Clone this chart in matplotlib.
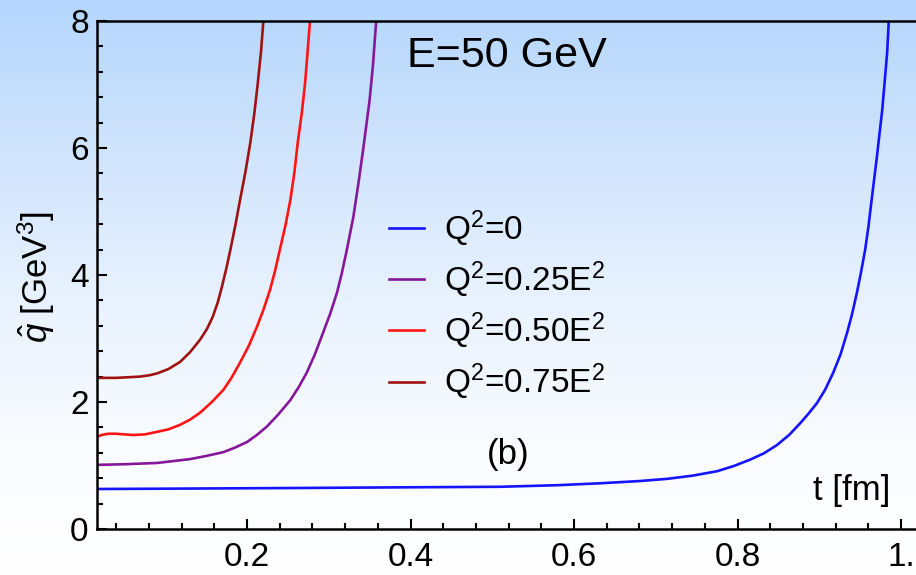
import numpy as np
import matplotlib
matplotlib.use("Agg")
import matplotlib.pyplot as plt
from matplotlib.ticker import MultipleLocator

plt.rcParams["font.family"] = ["Liberation Sans", "DejaVu Sans"]
plt.rcParams["mathtext.fontset"] = "custom"
plt.rcParams["mathtext.rm"] = "Liberation Sans"
plt.rcParams["mathtext.it"] = "Liberation Sans:italic"

# q-hat(t) for E = 50 GeV at several virtualities
t_q0 = [0.0165, 0.10, 0.25, 0.375, 0.51, 0.58, 0.632, 0.68, 0.714, 0.745,
        0.775, 0.795, 0.815, 0.832, 0.848, 0.863, 0.877, 0.887, 0.897, 0.907,
        0.917, 0.926, 0.934, 0.940, 0.946, 0.951, 0.956, 0.960, 0.964, 0.970,
        0.977, 0.983, 0.985]
q_q0 = [0.63, 0.635, 0.645, 0.655, 0.665, 0.69, 0.72, 0.755, 0.79, 0.84,
        0.91, 0.99, 1.09, 1.19, 1.32, 1.48, 1.67, 1.82, 1.98, 2.19,
        2.46, 2.75, 3.09, 3.38, 3.72, 4.04, 4.39, 4.75, 5.18, 5.81,
        6.60, 7.50, 8.0]

t_q25 = [0.0165, 0.05, 0.09, 0.13, 0.15, 0.171, 0.185, 0.200, 0.212, 0.224,
         0.238, 0.253, 0.263, 0.273, 0.283, 0.293, 0.302, 0.310, 0.316, 0.322,
         0.330, 0.336, 0.342, 0.350, 0.354, 0.358]
q_q25 = [1.01, 1.02, 1.04, 1.10, 1.15, 1.21, 1.28, 1.37, 1.48, 1.61,
         1.80, 2.03, 2.23, 2.46, 2.75, 3.09, 3.40, 3.72, 4.03, 4.39,
         4.91, 5.42, 5.97, 6.76, 7.30, 8.0]

t_q50 = [0.0165, 0.022, 0.030, 0.040, 0.050, 0.061, 0.075, 0.09, 0.104, 0.118,
         0.130, 0.1425, 0.157, 0.171, 0.181, 0.191, 0.202, 0.212, 0.220, 0.228,
         0.234, 0.240, 0.247, 0.253, 0.258, 0.262, 0.267, 0.271, 0.274, 0.277]
q_q50 = [1.45, 1.48, 1.50, 1.50, 1.49, 1.48, 1.49, 1.53, 1.57, 1.64,
         1.72, 1.83, 2.00, 2.19, 2.38, 2.61, 2.88, 3.18, 3.45, 3.76,
         4.05, 4.39, 4.78, 5.18, 5.62, 6.08, 6.55, 7.02, 7.50, 8.0]

t_q75 = [0.0165, 0.04, 0.069, 0.08, 0.09, 0.104, 0.118, 0.13, 0.1425, 0.151,
         0.158, 0.164, 0.169, 0.175, 0.180, 0.186, 0.191, 0.198, 0.204, 0.209,
         0.213, 0.217, 0.220]
q_q75 = [2.38, 2.38, 2.40, 2.42, 2.45, 2.52, 2.63, 2.78, 2.98, 3.15,
         3.34, 3.56, 3.80, 4.12, 4.42, 4.80, 5.15, 5.62, 6.08, 6.55,
         7.00, 7.50, 8.0]

series = [
    (t_q0, q_q0, "#1414ff", r"Q$^2$=0"),
    (t_q25, q_q25, "#85179a", r"Q$^2$=0.25E$^2$"),
    (t_q50, q_q50, "#ff1414", r"Q$^2$=0.50E$^2$"),
    (t_q75, q_q75, "#a01212", r"Q$^2$=0.75E$^2$"),
]

x_ticks = [0.2, 0.4, 0.6, 0.8, 1.0]
x_ticklabels = ["0.2", "0.4", "0.6", "0.8", "1."]
y_ticks = [0, 2, 4, 6, 8]

W, H = 916, 575
fig = plt.figure(figsize=(W / 100, H / 100), dpi=100)

# light-blue to white vertical gradient behind everything
bg = fig.add_axes([0, 0, 1, 1], zorder=-10)
stops_y = np.array([0.0, 150, 300, 450, 575]) / H
stops_c = np.array([[180, 214, 252], [208, 228, 253], [232, 242, 254],
                    [250, 252, 255], [255, 255, 255]]) / 255.0
yy = np.linspace(0, 1, 400)
grad = np.stack([np.interp(yy, stops_y, stops_c[:, k]) for k in range(3)], axis=1)
bg.imshow(grad[:, None, :], aspect="auto", extent=[0, 1, 1, 0])
bg.set_axis_off()

ax = fig.add_axes([97 / W, 1 - 529 / H, 1 - 97 / W, (529 - 21) / H])
ax.set_facecolor("none")

for t, q, c, lab in series:
    ax.plot(t, q, color=c, lw=1.9, label=lab, solid_joinstyle="round")

ax.set_xlim(0.0165, 1.0183)
ax.set_ylim(0, 8)
ax.set_xticks(x_ticks)
ax.set_xticklabels(x_ticklabels)
ax.set_yticks(y_ticks)
ax.xaxis.set_minor_locator(MultipleLocator(0.04))
ax.yaxis.set_minor_locator(MultipleLocator(0.4))
ax.tick_params(which="both", direction="in", top=False, right=False,
               width=1.5, labelsize=24)
ax.tick_params(which="major", length=7)
ax.tick_params(which="minor", length=4)
ax.tick_params(axis="x", pad=9)
ax.tick_params(axis="y", pad=6)
for side in ["left", "bottom", "top"]:
    ax.spines[side].set_linewidth(1.8)
ax.spines["right"].set_visible(False)

leg = ax.legend(loc="upper left", bbox_to_anchor=(0.34, 0.658), frameon=False,
                fontsize=24, handlelength=1.05, handletextpad=0.6,
                labelspacing=0.32, borderaxespad=0)

ax.text(0.518, 7.45, "E=50 GeV", fontsize=31, ha="center", va="center")
ax.text(0.519, 1.17, "(b)", fontsize=25, ha="center", va="center")
ax.text(0.94, 0.61, "t [fm]", fontsize=25, ha="center", va="center")
fig.text(36 / W, 1 - 277 / H, r"$\hat{q}$ [GeV$^3$]", fontsize=25,
         rotation=90, ha="center", va="center")

fig.savefig("out.png", dpi=100)
